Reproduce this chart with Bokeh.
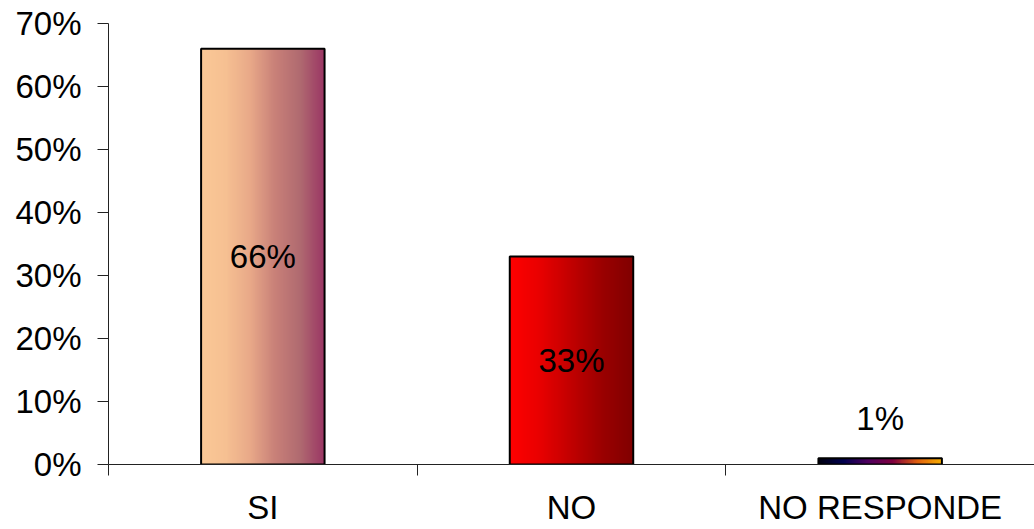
import numpy as np
from bokeh.plotting import figure
from bokeh.models import FixedTicker, NumeralTickFormatter, Range1d
from bokeh.core.properties import value
from bokeh.embed import file_html
from bokeh.resources import INLINE

categories = ["SI", "NO", "NO RESPONDE"]
shares = [0.66, 0.33, 0.01]
labels = ["66%", "33%", "1%"]

# colour stops of each bar's horizontal gradient (left -> right)
gradients = [
    ["#FAC896", "#F6C092", "#E8A888", "#C88078", "#B06A70", "#9A3464"],
    ["#FF0000", "#E80000", "#C00000", "#9A0000", "#800000"],
    ["#000010", "#000050", "#500060", "#800040", "#E06010", "#F8B000"],
]

FONT = "Liberation Sans"
SIZE = "33px"
BAR_W = 0.40
COLS = 256


def hex_to_rgb(h):
    h = h.lstrip("#")
    return np.array([int(h[i:i + 2], 16) for i in (0, 2, 4)], dtype=float)


def gradient_image(stops, n):
    t = np.linspace(0, 1, n)
    pos = np.linspace(0, 1, len(stops))
    rgb = np.array([hex_to_rgb(s) for s in stops])
    chans = [np.interp(t, pos, rgb[:, k]).round().astype(np.uint32) for k in range(3)]
    img = (255 << 24) | (chans[2] << 16) | (chans[1] << 8) | chans[0]
    return img.reshape(1, n).astype(np.uint32)


p = figure(width=1034, height=529, output_backend="svg", toolbar_location=None,
           x_range=Range1d(-0.5, len(categories) - 0.5), y_range=Range1d(0, 0.70),
           min_border_left=108, min_border_right=0, min_border_top=23, min_border_bottom=65)
p.outline_line_color = None
p.grid.visible = False
p.background_fill_color = "white"

xs = list(range(len(categories)))

# gradient fill of each bar
for i, (v, stops) in enumerate(zip(shares, gradients)):
    p.image_rgba(image=[gradient_image(stops, COLS)], x=i - BAR_W / 2, y=0, dw=BAR_W, dh=v)

# bar outlines
p.vbar(x=xs, top=shares, width=BAR_W, fill_color=None, line_color="black", line_width=2)

# value labels: inside the bar at mid-height, above the bar when it is too short
lab_y = [v / 2 if v > 0.1 else v + 0.063 for v in shares]
p.text(x=xs, y=lab_y, text=labels, text_font=value(FONT), text_font_size=SIZE,
       text_align="center", text_baseline="middle", text_color="black")

# axes
p.yaxis.ticker = FixedTicker(ticks=[i / 10 for i in range(8)])
p.yaxis.formatter = NumeralTickFormatter(format="0%")
p.yaxis.major_tick_out = 11
p.yaxis.major_tick_in = 0
p.yaxis.minor_tick_line_color = None
p.yaxis.major_label_standoff = 16
p.yaxis.axis_line_color = "#222222"
p.yaxis.major_tick_line_color = "#222222"

p.xaxis.ticker = FixedTicker(ticks=xs, minor_ticks=[i - 0.5 for i in range(len(categories) + 1)])
p.xaxis.major_label_overrides = {i: c for i, c in enumerate(categories)}
p.xaxis.major_tick_line_color = None
p.xaxis.major_tick_out = 0
p.xaxis.major_tick_in = 0
p.xaxis.minor_tick_out = 11
p.xaxis.minor_tick_in = 0
p.xaxis.minor_tick_line_color = "#222222"
p.xaxis.axis_line_color = "#222222"
p.xaxis.major_label_standoff = 13

for ax in (p.xaxis, p.yaxis):
    ax.major_label_text_font = FONT
    ax.major_label_text_font_size = SIZE
    ax.major_label_text_color = "black"

open("out.html", "w").write(file_html(p, INLINE))
